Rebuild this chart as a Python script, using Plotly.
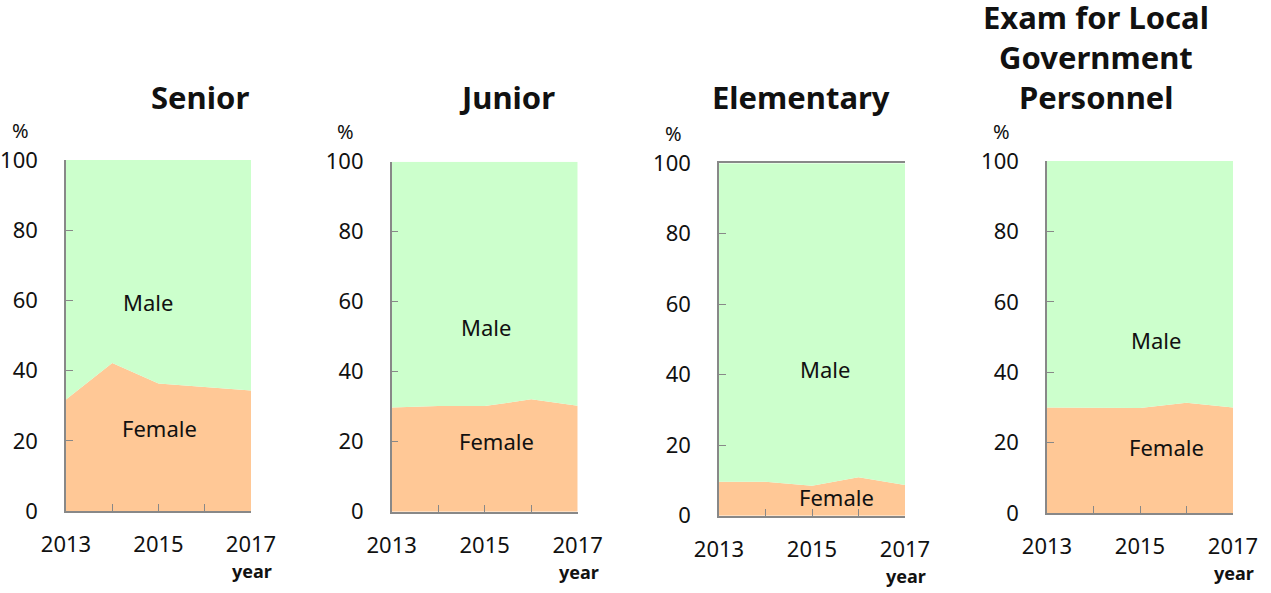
import plotly.graph_objects as go

years = [2013, 2014, 2015, 2016, 2017]
panel_titles = [["Senior"], ["Junior"], ["Elementary"],
                ["Exam for Local", "Government", "Personnel"]]
female = {
    "Senior": [31.8, 42.2, 36.3, 35.3, 34.3],
    "Junior": [29.8, 30.2, 30.2, 32.1, 30.3],
    "Elementary": [9.6, 9.6, 8.5, 10.9, 8.7],
    "Exam": [30.0, 30.0, 29.8, 31.3, 30.0],
}
male = {
    "Senior": [68.2, 57.8, 63.7, 64.7, 65.7],
    "Junior": [70.2, 69.8, 69.8, 67.9, 69.7],
    "Elementary": [90.4, 90.4, 91.5, 89.1, 91.3],
    "Exam": [70.0, 70.0, 70.2, 68.7, 70.0],
}
keys = ["Senior", "Junior", "Elementary", "Exam"]
y_ticks = [0, 20, 40, 60, 80, 100]
x_tick_labels = ["2013", "", "2015", "", "2017"]

W, H = 1271, 593
# plot areas in pixels: (x0, x1, ytop, ybottom)
areas = [(66, 251, 160, 511), (391.7, 577.7, 161.7, 511.7),
         (719, 905, 163.3, 515.7), (1047, 1233, 161, 513)]
label_pos = [((2014.77, 59.5), (2015.03, 23.6)),
             ((2015.03, 52.8), (2015.26, 20.2)),
             ((2015.28, 41.6), (2015.52, 5.3)),
             ((2015.34, 49.1), (2015.56, 18.75))]
title_x = [200, 507, 801, 1096]
title_bottom_y = 97
title_line_gap = 40

FEMALE_C = "#FFC896"
MALE_C = "#CCFFCC"
AXC = "#888888"
FONT = "Noto Sans"
TXT = "#111111"

fig = go.Figure()
annotations = []
for i, k in enumerate(keys):
    n = "" if i == 0 else str(i + 1)
    xa, ya = "x" + n, "y" + n
    fig.add_trace(go.Scatter(x=years, y=female[k], xaxis=xa, yaxis=ya, mode="lines",
                             stackgroup="g" + n, line=dict(width=0), fillcolor=FEMALE_C,
                             showlegend=False, hoverinfo="skip"))
    fig.add_trace(go.Scatter(x=years, y=male[k], xaxis=xa, yaxis=ya, mode="lines",
                             stackgroup="g" + n, line=dict(width=0), fillcolor=MALE_C,
                             showlegend=False, hoverinfo="skip"))
    x0, x1, yt, yb = areas[i]
    dom_x = [x0 / W, x1 / W]
    dom_y = [1 - yb / H, 1 - yt / H]
    xkey = "xaxis" + n
    ykey = "yaxis" + n
    fig.update_layout(**{
        xkey: dict(domain=dom_x, anchor=ya, range=[2013, 2017], tickvals=years,
                   ticktext=x_tick_labels, ticks="inside", ticklen=7, tickcolor=AXC,
                   showline=True, linecolor=AXC, linewidth=1.5, showgrid=False,
                   zeroline=False, mirror=(i == 2), ticklabelstandoff=13,
                   automargin=False,
                   tickfont=dict(family=FONT, size=22, color=TXT)),
        ykey: dict(domain=dom_y, anchor=xa, range=[0, 100], tickvals=y_ticks,
                   ticks="inside", ticklen=7, tickcolor=AXC, showline=True,
                   linecolor=AXC, linewidth=1.5, showgrid=False, zeroline=False,
                   ticklabelstandoff=22, automargin=False,
                   tickfont=dict(family=FONT, size=22, color=TXT)),
    })
    (mx, my), (fx, fy) = label_pos[i]
    annotations.append(dict(x=mx, y=my, xref=xa, yref=ya, text="Male", showarrow=False,
                            font=dict(family=FONT, size=22, color=TXT)))
    annotations.append(dict(x=fx, y=fy, xref=xa, yref=ya, text="Female", showarrow=False,
                            font=dict(family=FONT, size=22, color=TXT)))
    lines = panel_titles[i]
    for j, line in enumerate(lines):
        ty = title_bottom_y - (len(lines) - 1 - j) * title_line_gap
        annotations.append(dict(x=title_x[i] / W, y=1 - ty / H, xref="paper", yref="paper",
                                text="<b>" + line + "</b>", showarrow=False,
                                xanchor="center", yanchor="middle",
                                font=dict(family=FONT, size=31, color=TXT)))
    # percent sign and year labels
    annotations.append(dict(x=(x0 - 46) / W, y=1 - (yt - 30) / H, xref="paper", yref="paper",
                            text="%", showarrow=False, xanchor="center", yanchor="middle",
                            font=dict(family=FONT, size=20, color=TXT)))
    annotations.append(dict(x=(x1 + 1) / W, y=1 - (yb + 60) / H, xref="paper", yref="paper",
                            text="<b>year</b>", showarrow=False, xanchor="center",
                            yanchor="middle", font=dict(family=FONT, size=18, color=TXT)))

fig.update_layout(width=W, height=H, margin=dict(l=0, r=0, t=0, b=0),
                  plot_bgcolor="white", paper_bgcolor="white",
                  annotations=annotations, showlegend=False)
fig.write_html("out.html", config={"displayModeBar": False},
               post_script="document.body.style.margin='0';")
